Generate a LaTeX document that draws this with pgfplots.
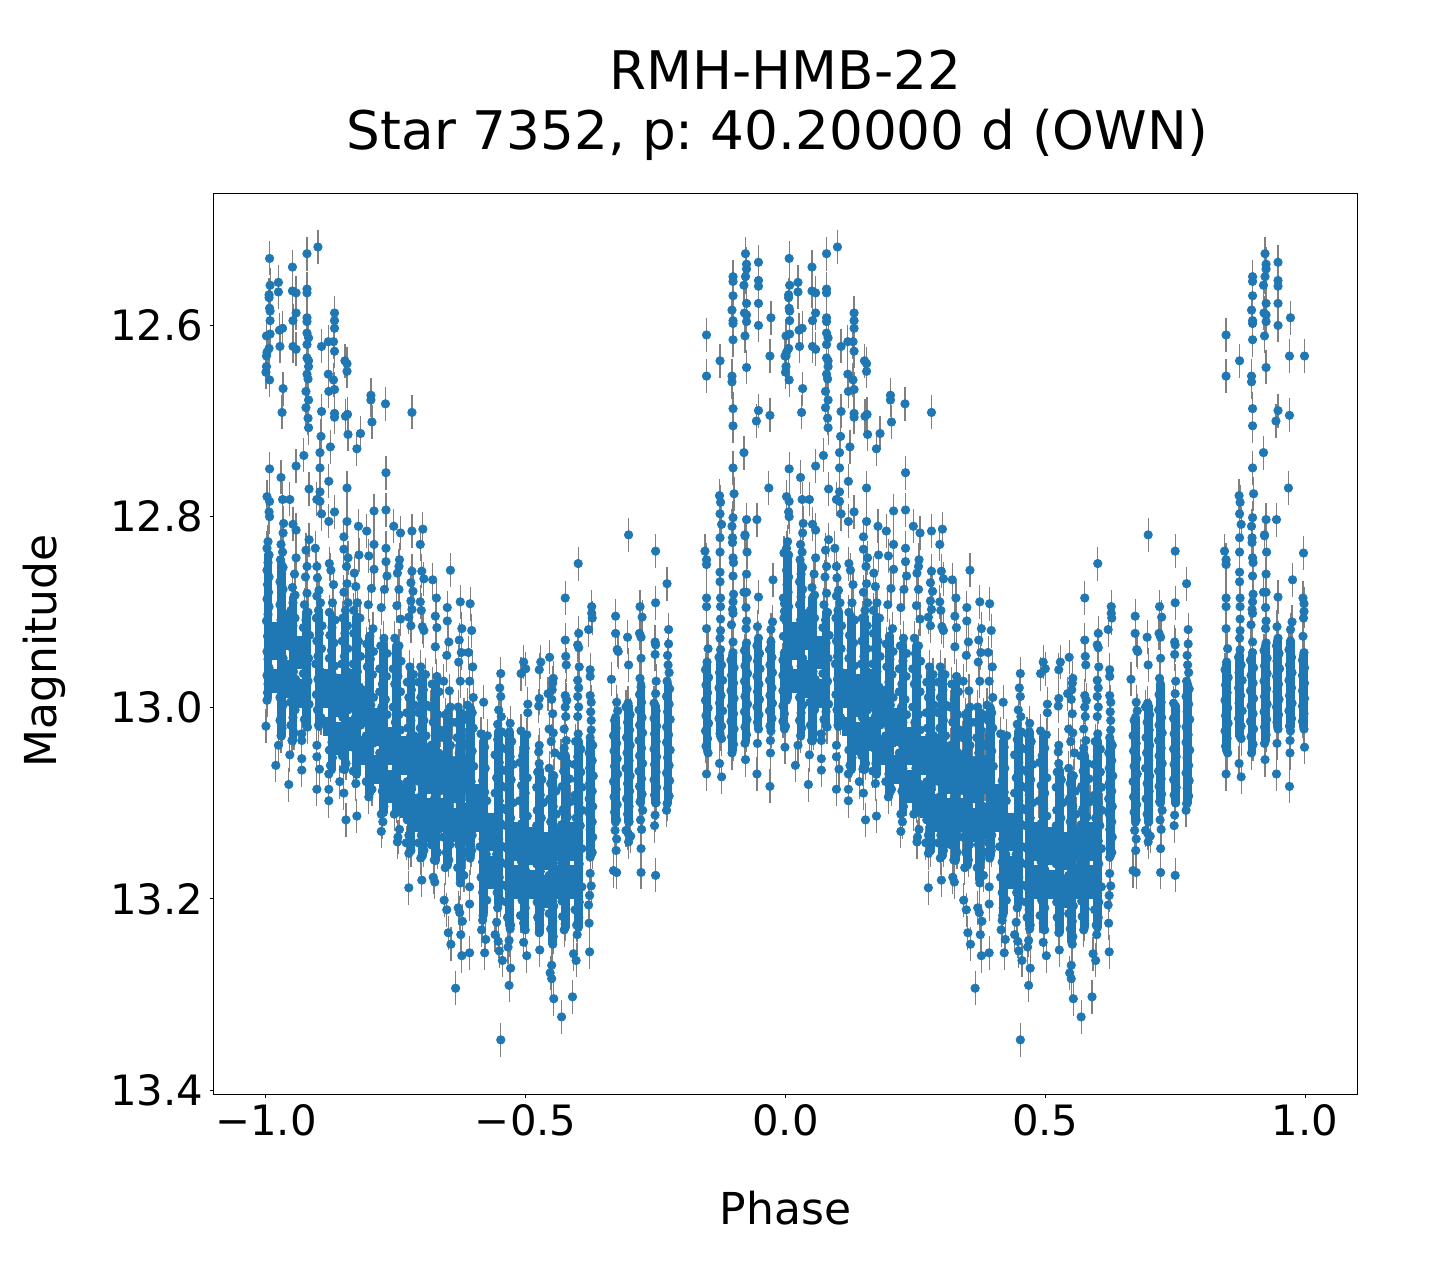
\documentclass[border=0pt]{standalone}
\usepackage{fontspec}
\setmainfont{DejaVu Sans}
\usepackage{pgfplots}
\usepackage{pgfplotstable}
\pgfplotsset{compat=1.18}
\definecolor{mplblue}{HTML}{1F77B4}
% phase and magnitude, phases 0..1 (drawn again at phase-1)
\pgfplotstableread{
ph mag
.007 12.533
.008 12.561
.006 12.571
.006 12.574
.007 12.585
.008 12.588
.008 12.598
.001 12.614
.008 12.612
.006 12.627
.002 12.631
.001 12.635
.001 12.646
.000 12.652
.007 12.660
.007 12.753
.002 12.782
.007 12.787
.006 12.798
.007 12.803
.004 12.829
.002 12.836
.006 12.843
.004 12.851
.002 12.859
.006 12.866
.003 12.874
.005 12.882
.002 12.889
.006 12.897
.004 12.905
.001 12.912
.005 12.920
.003 12.928
.006 12.936
.002 12.944
.004 12.952
.006 12.961
.002 12.969
.004 12.978
.003 12.987
.002 12.995
.000 13.022
.024 12.558
.024 12.568
.026 12.608
.032 12.606
.027 12.625
.033 12.669
.031 12.694
.029 12.762
.032 12.785
.034 12.810
.033 12.820
.029 12.832
.032 12.840
.028 12.848
.033 12.856
.030 12.863
.027 12.871
.033 12.879
.030 12.887
.027 12.895
.032 12.903
.029 12.911
.034 12.919
.027 12.927
.031 12.935
.028 12.943
.033 12.951
.030 12.959
.026 12.967
.032 12.975
.029 12.984
.027 12.992
.033 13.000
.030 13.008
.027 13.016
.031 13.024
.029 13.032
.024 13.042
.019 13.063
.051 12.542
.051 12.567
.058 12.569
.058 12.590
.052 12.598
.052 12.625
.058 12.628
.058 12.750
.046 12.785
.052 12.811
.058 12.817
.058 12.846
.055 12.863
.051 12.877
.056 12.885
.052 12.893
.048 12.901
.056 12.909
.052 12.917
.047 12.925
.055 12.933
.051 12.941
.058 12.949
.048 12.957
.053 12.965
.057 12.973
.050 12.981
.054 12.989
.047 12.997
.056 13.005
.052 13.013
.048 13.021
.054 13.029
.050 13.037
.046 13.052
.044 13.083
.079 12.528
.079 12.565
.079 12.569
.079 12.595
.079 12.599
.079 12.611
.082 12.616
.079 12.623
.079 12.637
.082 12.640
.082 12.646
.079 12.654
.081 12.659
.077 12.672
.082 12.681
.077 12.689
.081 12.700
.082 12.710
.073 12.739
.083 12.774
.083 12.827
.077 12.838
.079 12.855
.076 12.866
.079 12.883
.074 12.895
.081 12.903
.077 12.911
.072 12.919
.084 12.927
.078 12.935
.073 12.943
.082 12.951
.076 12.959
.072 12.967
.081 12.975
.077 12.983
.073 12.991
.083 12.999
.078 13.007
.074 13.015
.080 13.023
.069 13.030
.069 13.037
.069 13.056
.069 13.068
.100 12.521
.107 12.625
.120 12.654
.107 12.693
.106 12.719
.104 12.736
.104 12.752
.104 12.777
.098 12.785
.104 12.787
.107 12.800
.095 12.836
.098 12.855
.099 12.867
.102 12.880
.098 12.886
.105 12.893
.101 12.901
.097 12.909
.108 12.917
.103 12.925
.098 12.933
.107 12.941
.100 12.949
.096 12.957
.105 12.965
.100 12.973
.108 12.981
.097 12.989
.103 12.997
.099 13.005
.106 13.013
.101 13.021
.098 13.042
.098 13.054
.103 13.067
.098 13.088
.132 12.590
.132 12.598
.132 12.606
.130 12.620
.132 12.630
.120 12.620
.130 12.660
.132 12.670
.121 12.672
.132 12.695
.132 12.699
.124 12.730
.121 12.766
.132 12.798
.121 12.808
.122 12.852
.125 12.859
.130 12.874
.128 12.893
.122 12.903
.133 12.911
.127 12.919
.123 12.927
.131 12.935
.126 12.943
.122 12.951
.132 12.959
.127 12.967
.124 12.975
.133 12.983
.128 12.991
.122 12.999
.131 13.007
.126 13.015
.123 13.023
.130 13.031
.127 13.039
.122 13.047
.128 13.055
.124 13.063
.121 13.072
.121 13.088
.121 13.100
.152 12.640
.156 12.643
.156 12.651
.157 12.696
.153 12.698
.158 12.717
.156 12.773
.156 12.808
.150 12.824
.150 12.837
.158 12.846
.155 12.855
.156 12.873
.150 12.882
.158 12.893
.153 12.901
.148 12.909
.157 12.917
.152 12.925
.147 12.933
.157 12.941
.151 12.949
.146 12.957
.156 12.965
.150 12.973
.159 12.981
.146 12.989
.153 12.997
.158 13.005
.148 13.013
.154 13.021
.149 13.029
.156 13.037
.151 13.045
.147 13.053
.154 13.061
.149 13.067
.142 13.080
.150 13.092
.154 13.120
.182 12.716
.175 12.732
.178 12.813
.179 12.843
.170 12.862
.173 12.876
.176 12.893
.169 12.901
.181 12.909
.174 12.917
.169 12.925
.178 12.933
.172 12.941
.182 12.949
.168 12.957
.176 12.965
.170 12.973
.180 12.981
.173 12.989
.168 12.997
.178 13.005
.172 13.013
.182 13.021
.169 13.029
.176 13.037
.171 13.045
.180 13.053
.174 13.061
.168 13.069
.173 13.082
.175 13.116
.202 12.676
.202 12.681
.204 12.704
.208 12.797
.194 12.818
.208 12.832
.198 12.844
.208 12.858
.203 12.878
.197 12.895
.206 12.920
.200 12.928
.194 12.936
.207 12.944
.201 12.952
.195 12.960
.205 12.968
.199 12.976
.193 12.984
.207 12.992
.202 13.000
.196 13.008
.205 13.016
.199 13.024
.193 13.032
.206 13.040
.200 13.048
.195 13.056
.205 13.064
.199 13.072
.193 13.080
.204 13.088
.198 13.096
.230 12.685
.231 12.757
.231 12.796
.231 12.836
.231 12.850
.233 12.865
.228 12.879
.222 12.898
.227 12.930
.221 12.938
.233 12.946
.226 12.954
.219 12.962
.232 12.970
.224 12.978
.219 12.986
.230 12.994
.223 13.002
.233 13.010
.226 13.018
.220 13.026
.231 13.034
.225 13.042
.219 13.050
.232 13.058
.226 13.066
.220 13.074
.230 13.082
.224 13.090
.232 13.098
.227 13.106
.222 13.114
.225 13.122
.222 13.132
.246 12.813
.259 12.820
.257 12.848
.256 12.855
.253 12.862
.256 12.879
.252 12.896
.259 12.910
.248 12.930
.256 12.938
.250 12.946
.260 12.954
.245 12.962
.254 12.970
.248 12.978
.259 12.986
.252 12.994
.245 13.002
.256 13.010
.249 13.018
.259 13.026
.243 13.034
.253 13.042
.247 13.050
.258 13.058
.251 13.066
.245 13.074
.256 13.082
.249 13.090
.260 13.098
.252 13.106
.247 13.114
.257 13.130
.254 13.138
.253 13.143
.281 12.694
.281 12.818
.281 12.860
.279 12.872
.283 12.881
.279 12.891
.281 12.900
.275 12.908
.279 12.917
.277 12.960
.284 12.968
.272 12.976
.280 12.984
.275 12.992
.286 13.000
.271 13.008
.279 13.016
.273 13.024
.285 13.032
.277 13.040
.270 13.048
.283 13.056
.275 13.064
.288 13.072
.272 13.080
.280 13.088
.274 13.096
.286 13.104
.277 13.112
.272 13.120
.283 13.128
.275 13.136
.270 13.144
.279 13.152
.275 13.155
.275 13.191
.302 12.816
.297 12.832
.300 12.860
.304 12.868
.297 12.892
.299 12.901
.301 12.918
.304 12.922
.298 12.960
.307 12.968
.294 12.976
.303 12.984
.298 12.992
.309 13.000
.294 13.008
.304 13.016
.297 13.024
.308 13.032
.301 13.040
.293 13.048
.306 13.056
.299 13.064
.311 13.072
.295 13.080
.303 13.088
.297 13.096
.309 13.104
.301 13.112
.294 13.120
.307 13.128
.299 13.136
.294 13.144
.304 13.152
.298 13.160
.300 13.183
.321 12.869
.328 12.888
.326 12.907
.329 12.919
.326 12.939
.329 12.970
.320 12.978
.333 12.986
.325 12.994
.317 13.002
.331 13.010
.322 13.018
.335 13.026
.327 13.034
.318 13.042
.332 13.050
.323 13.058
.336 13.066
.328 13.074
.318 13.082
.333 13.090
.324 13.098
.336 13.106
.328 13.114
.319 13.122
.332 13.130
.324 13.138
.318 13.146
.330 13.154
.324 13.162
.322 13.180
.325 13.185
.355 12.859
.349 12.898
.349 12.912
.352 12.934
.348 12.948
.342 12.975
.353 12.985
.355 13.002
.346 13.010
.358 13.018
.350 13.026
.341 13.034
.355 13.042
.347 13.050
.359 13.058
.351 13.066
.342 13.074
.356 13.082
.346 13.090
.360 13.098
.352 13.106
.343 13.114
.356 13.122
.348 13.130
.341 13.138
.354 13.146
.347 13.154
.352 13.162
.345 13.170
.343 13.204
.348 13.214
.351 13.238
.356 13.250
.374 12.892
.377 12.920
.372 12.932
.376 12.945
.371 12.955
.374 12.975
.370 13.002
.381 13.010
.366 13.018
.376 13.026
.368 13.034
.384 13.042
.372 13.050
.365 13.058
.380 13.066
.370 13.074
.384 13.082
.374 13.090
.366 13.098
.381 13.106
.372 13.114
.384 13.122
.367 13.130
.378 13.138
.371 13.146
.383 13.154
.376 13.162
.369 13.170
.381 13.178
.374 13.186
.370 13.212
.373 13.217
.378 13.226
.375 13.240
.377 13.262
.365 13.296
.393 12.894
.396 12.922
.390 12.945
.398 12.960
.392 12.975
.399 12.992
.388 13.000
.397 13.008
.390 13.016
.399 13.024
.392 13.032
.388 13.040
.397 13.048
.391 13.056
.400 13.064
.389 13.072
.395 13.080
.390 13.088
.399 13.096
.393 13.104
.388 13.112
.398 13.120
.392 13.128
.397 13.136
.391 13.144
.396 13.152
.393 13.160
.392 13.190
.392 13.208
.392 13.259
.419 12.997
.421 13.044
.419 13.054
.422 13.066
.417 13.079
.421 13.091
.426 13.032
.414 13.030
.425 13.100
.414 13.108
.422 13.116
.416 13.124
.426 13.132
.418 13.140
.412 13.148
.424 13.156
.417 13.164
.425 13.172
.414 13.180
.422 13.188
.417 13.196
.425 13.204
.419 13.212
.418 13.220
.417 13.225
.415 13.235
.423 13.245
.421 13.259
.452 12.967
.450 12.982
.452 12.991
.448 13.005
.453 13.012
.446 13.020
.454 13.028
.446 13.036
.452 13.044
.441 13.052
.449 13.060
.456 13.068
.444 13.076
.452 13.084
.441 13.092
.449 13.100
.456 13.108
.445 13.116
.452 13.124
.441 13.132
.448 13.140
.456 13.148
.444 13.156
.452 13.164
.441 13.172
.449 13.180
.455 13.188
.445 13.196
.451 13.204
.446 13.212
.444 13.227
.441 13.240
.447 13.247
.449 13.257
.455 13.267
.452 13.350
.470 13.019
.465 13.030
.473 13.038
.463 13.046
.470 13.054
.476 13.062
.466 13.070
.472 13.078
.462 13.086
.469 13.094
.476 13.102
.464 13.110
.471 13.118
.462 13.126
.470 13.134
.475 13.142
.465 13.150
.472 13.158
.463 13.166
.470 13.174
.476 13.182
.465 13.190
.471 13.198
.463 13.206
.469 13.214
.465 13.222
.471 13.230
.470 13.234
.468 13.246
.466 13.253
.471 13.275
.468 13.293
.496 12.955
.500 12.962
.491 12.967
.504 12.999
.504 13.008
.491 13.027
.502 13.031
.494 13.053
.499 13.045
.489 13.060
.497 13.068
.503 13.076
.492 13.084
.499 13.092
.488 13.100
.497 13.108
.503 13.116
.492 13.124
.498 13.132
.489 13.140
.496 13.148
.503 13.156
.492 13.164
.499 13.172
.489 13.180
.496 13.188
.503 13.196
.493 13.204
.499 13.212
.490 13.220
.496 13.228
.499 13.235
.496 13.248
.502 13.262
.529 12.955
.526 12.963
.526 12.993
.525 13.001
.526 13.042
.525 13.049
.526 13.061
.523 13.070
.531 13.078
.521 13.086
.528 13.094
.534 13.102
.522 13.110
.530 13.118
.521 13.126
.527 13.134
.534 13.142
.523 13.150
.530 13.158
.521 13.166
.528 13.174
.533 13.182
.523 13.190
.529 13.198
.522 13.206
.528 13.214
.523 13.222
.527 13.230
.526 13.238
.527 13.256
.546 12.950
.553 12.972
.552 12.977
.551 12.984
.543 12.988
.550 12.994
.552 13.009
.545 13.025
.553 13.029
.549 13.038
.556 13.050
.545 13.066
.554 13.074
.548 13.082
.558 13.090
.546 13.098
.553 13.106
.559 13.114
.548 13.122
.555 13.130
.545 13.138
.552 13.146
.559 13.154
.547 13.162
.554 13.170
.545 13.178
.552 13.186
.558 13.194
.548 13.202
.554 13.210
.545 13.218
.552 13.226
.548 13.234
.553 13.242
.552 13.250
.550 13.272
.547 13.280
.550 13.286
.554 13.307
.576 12.888
.576 12.932
.577 12.949
.578 12.958
.576 12.990
.579 12.995
.576 13.002
.577 13.012
.574 13.025
.578 13.037
.574 13.045
.568 13.053
.581 13.061
.573 13.069
.584 13.077
.570 13.085
.578 13.093
.586 13.101
.572 13.109
.580 13.117
.569 13.125
.577 13.133
.585 13.141
.572 13.149
.579 13.157
.569 13.165
.577 13.173
.584 13.181
.572 13.189
.578 13.197
.570 13.205
.577 13.213
.571 13.221
.576 13.229
.574 13.235
.569 13.326
.601 12.852
.602 12.925
.600 12.937
.602 12.940
.603 12.960
.600 12.974
.602 12.982
.600 12.991
.602 13.002
.600 13.012
.601 13.030
.596 13.038
.606 13.046
.600 13.054
.594 13.062
.606 13.070
.599 13.078
.608 13.086
.595 13.094
.602 13.102
.609 13.110
.597 13.118
.605 13.126
.594 13.134
.602 13.142
.608 13.150
.597 13.158
.603 13.166
.594 13.174
.601 13.182
.608 13.190
.596 13.198
.603 13.206
.595 13.214
.602 13.222
.598 13.230
.599 13.240
.592 13.260
.597 13.267
.590 13.305
.627 12.897
.627 12.904
.628 12.909
.621 12.921
.624 12.963
.624 12.970
.624 12.990
.626 12.997
.625 13.007
.626 13.016
.626 13.026
.624 13.034
.629 13.042
.622 13.050
.628 13.058
.623 13.066
.630 13.074
.623 13.082
.628 13.090
.622 13.098
.629 13.106
.623 13.114
.628 13.122
.624 13.130
.629 13.138
.625 13.146
.628 13.154
.624 13.159
.624 13.176
.626 13.189
.623 13.199
.621 13.209
.622 13.228
.623 13.258
.673 12.907
.673 12.925
.676 12.942
.678 12.944
.665 12.973
.675 12.997
.677 13.006
.671 13.016
.674 13.024
.669 13.032
.675 13.040
.670 13.048
.676 13.056
.671 13.064
.677 13.072
.669 13.080
.674 13.088
.670 13.096
.676 13.104
.671 13.112
.675 13.120
.672 13.131
.675 13.140
.674 13.152
.669 13.173
.675 13.175
.698 12.822
.696 12.929
.698 12.958
.697 12.998
.693 13.002
.701 13.010
.696 13.018
.700 13.026
.694 13.034
.701 13.042
.695 13.050
.699 13.058
.693 13.066
.701 13.074
.696 13.082
.700 13.090
.694 13.098
.699 13.106
.696 13.114
.699 13.122
.693 13.131
.697 13.134
.702 13.137
.698 13.143
.720 12.897
.724 12.908
.719 12.925
.722 12.929
.722 12.951
.720 12.972
.722 12.981
.719 12.989
.723 12.997
.718 13.005
.724 13.013
.719 13.021
.725 13.029
.718 13.037
.723 13.045
.719 13.053
.725 13.061
.718 13.069
.723 13.077
.719 13.085
.724 13.093
.720 13.101
.725 13.110
.721 13.120
.723 13.130
.722 13.150
.722 13.175
.750 12.839
.750 12.893
.749 12.934
.750 12.937
.749 12.947
.751 12.975
.750 12.988
.747 12.998
.751 13.006
.747 13.014
.752 13.022
.748 13.030
.751 13.038
.747 13.046
.752 13.054
.748 13.062
.751 13.070
.747 13.078
.752 13.086
.748 13.094
.751 13.102
.749 13.115
.748 13.126
.750 13.178
.772 12.873
.775 12.921
.775 12.936
.773 12.948
.774 12.958
.776 12.966
.772 12.975
.777 12.983
.771 12.991
.776 12.999
.773 13.007
.778 13.015
.771 13.023
.775 13.031
.771 13.039
.778 13.047
.773 13.055
.776 13.063
.771 13.071
.777 13.079
.773 13.087
.776 13.095
.772 13.103
.771 13.110
.848 12.613
.848 12.656
.845 12.839
.848 12.848
.848 12.853
.848 12.888
.848 12.897
.848 12.920
.851 12.941
.849 12.955
.846 12.963
.852 12.971
.847 12.979
.850 12.987
.846 12.995
.851 13.003
.847 13.011
.852 13.019
.846 13.027
.850 13.035
.847 13.043
.851 13.050
.848 13.072
.874 12.640
.873 12.781
.875 12.788
.874 12.800
.877 12.811
.874 12.825
.874 12.840
.874 12.861
.874 12.871
.875 12.888
.875 12.897
.875 12.910
.875 12.922
.874 12.930
.875 12.942
.872 12.950
.877 12.958
.873 12.966
.879 12.974
.872 12.982
.876 12.990
.873 12.998
.879 13.006
.872 13.014
.877 13.022
.874 13.030
.877 13.035
.873 13.061
.877 13.075
.899 12.552
.899 12.557
.899 12.572
.897 12.587
.899 12.598
.899 12.601
.899 12.618
.897 12.656
.897 12.662
.899 12.690
.899 12.708
.899 12.752
.901 12.779
.899 12.804
.897 12.813
.898 12.825
.898 12.830
.899 12.846
.900 12.851
.899 12.865
.900 12.884
.899 12.892
.898 12.900
.899 12.904
.896 12.916
.899 12.934
.899 12.945
.895 12.953
.901 12.961
.896 12.969
.900 12.977
.895 12.985
.901 12.993
.896 13.001
.900 13.009
.895 13.017
.901 13.025
.896 13.033
.900 13.041
.897 13.050
.923 12.528
.925 12.539
.925 12.544
.923 12.552
.920 12.561
.925 12.580
.921 12.590
.925 12.592
.925 12.599
.922 12.614
.925 12.647
.920 12.736
.922 12.823
.925 12.806
.922 12.822
.926 12.840
.925 12.863
.920 12.882
.925 12.882
.924 12.898
.925 12.912
.924 12.920
.925 12.935
.921 12.943
.927 12.951
.922 12.959
.927 12.967
.921 12.975
.926 12.983
.922 12.991
.927 12.999
.921 13.007
.926 13.015
.922 13.023
.925 13.031
.922 13.040
.923 13.057
.948 12.537
.948 12.556
.948 12.562
.948 12.580
.948 12.603
.944 12.703
.948 12.692
.945 12.806
.948 12.887
.946 12.918
.948 12.930
.945 12.938
.950 12.946
.946 12.954
.951 12.962
.945 12.970
.949 12.978
.946 12.986
.950 12.994
.945 13.002
.949 13.010
.946 13.018
.948 13.025
.946 13.040
.945 13.072
.972 12.595
.970 12.635
.970 12.697
.968 12.773
.976 12.869
.975 12.913
.972 12.921
.972 12.934
.969 12.942
.974 12.950
.970 12.958
.975 12.966
.969 12.974
.974 12.982
.970 12.990
.975 12.998
.969 13.006
.974 13.014
.970 13.022
.972 13.027
.971 13.037
.971 13.050
.970 13.085
.999 12.635
.997 12.841
.996 12.888
.998 12.894
.998 12.902
.997 12.909
.996 12.928
.998 12.945
.995 12.953
.999 12.961
.995 12.969
.999 12.977
.995 12.985
.999 12.993
.995 13.001
.998 13.009
.995 13.017
.998 13.025
.999 13.044
}\datatable
% where the points merge into solid columns: phase, top and bottom of each run
\pgfplotstableread{
ph mag
.004 12.84
.004 12.99
.004 nan
.030 12.85
.030 13.03
.030 nan
.052 12.885
.052 13.035
.052 nan
.078 12.90
.078 13.02
.078 nan
.102 12.90
.102 13.02
.102 nan
.127 12.905
.127 13.065
.127 nan
.152 12.905
.152 13.065
.152 nan
.175 12.905
.175 13.07
.175 nan
.200 12.925
.200 13.09
.200 nan
.226 12.935
.226 13.11
.226 nan
.252 12.935
.252 13.11
.252 nan
.279 12.965
.279 13.15
.279 nan
.302 12.965
.302 13.155
.302 nan
.327 12.975
.327 13.16
.327 nan
.350 13.005
.350 13.165
.350 nan
.374 13.005
.374 13.18
.374 nan
.394 13.00
.394 13.155
.394 nan
.419 13.035
.419 13.215
.419 nan
.448 13.025
.448 13.205
.448 nan
.469 13.025
.469 13.228
.469 nan
.497 13.03
.497 13.232
.497 nan
.527 13.065
.527 13.235
.527 nan
.551 13.07
.551 13.245
.551 nan
.576 13.05
.576 13.23
.576 nan
.601 13.035
.601 13.23
.601 nan
.625 13.035
.625 13.155
.625 nan
.673 13.01
.673 13.12
.673 nan
.698 12.998
.698 13.12
.698 nan
.722 12.975
.722 13.10
.722 nan
.750 12.998
.750 13.10
.750 nan
.774 12.975
.774 13.10
.774 nan
.849 12.955
.849 13.045
.849 nan
.874 12.945
.874 13.03
.874 nan
.898 12.945
.898 13.045
.898 nan
.924 12.935
.924 13.035
.924 nan
.947 12.93
.947 13.02
.947 nan
.972 12.93
.972 13.02
.972 nan
.997 12.945
.997 13.02
.997 nan
}\runs
% narrower patches between the columns where the reference is almost filled in
\pgfplotstableread{
ph mag
.016 12.91
.016 12.95
.016 nan
.016 12.96
.016 12.985
.016 nan
.041 12.90
.041 12.94
.041 nan
.041 12.95
.041 12.99
.041 nan
.066 12.925
.066 12.96
.066 nan
.066 12.97
.066 13.00
.066 nan
.115 12.96
.115 13.00
.115 nan
.115 13.01
.115 13.03
.115 nan
.140 12.965
.140 13.01
.140 nan
.140 13.015
.140 13.05
.140 nan
.164 12.96
.164 13.00
.164 nan
.164 13.01
.164 13.045
.164 nan
.188 12.98
.188 13.02
.188 nan
.188 13.03
.188 13.06
.188 nan
.213 13.00
.213 13.04
.213 nan
.213 13.05
.213 13.08
.213 nan
.240 13.02
.240 13.06
.240 nan
.240 13.065
.240 13.10
.240 nan
.265 13.03
.265 13.07
.265 nan
.265 13.08
.265 13.115
.265 nan
.290 13.03
.290 13.08
.290 nan
.290 13.09
.290 13.13
.290 nan
.315 13.04
.315 13.09
.315 nan
.315 13.095
.315 13.14
.315 nan
.338 13.05
.338 13.09
.338 nan
.338 13.095
.338 13.13
.338 nan
.362 13.055
.362 13.10
.362 nan
.362 13.105
.362 13.14
.362 nan
.384 13.05
.384 13.09
.384 nan
.384 13.10
.384 13.135
.384 nan
.407 13.08
.407 13.13
.407 nan
.434 13.11
.434 13.15
.434 nan
.434 13.155
.434 13.19
.434 nan
.483 13.12
.483 13.16
.483 nan
.483 13.165
.483 13.20
.483 nan
.512 13.125
.512 13.165
.512 nan
.512 13.17
.512 13.20
.512 nan
.540 13.13
.540 13.17
.540 nan
.540 13.175
.540 13.21
.540 nan
.565 13.125
.565 13.16
.565 nan
.565 13.165
.565 13.20
.565 nan
.589 13.12
.589 13.16
.589 nan
.589 13.165
.589 13.20
.589 nan
}\patches
\begin{document}
\frenchspacing
\begin{tikzpicture}
\begin{axis}[
  set layers=standard,
  scale only axis,
  width=571.5pt,height=450pt,
  xmin=-1.1,xmax=1.1,
  ymin=12.463,ymax=13.404,
  y dir=reverse,
  unbounded coords=jump,
  axis line style={line width=0.5pt},
  tick style={line width=0.5pt,black},
  major tick length=2.2pt,
  tick align=outside,
  xtick pos=bottom,ytick pos=left,
  xtick={-1,-0.5,0,0.5,1},
  xticklabels={−1.0,−0.5,0.0,0.5,1.0},
  ytick={12.6,12.8,13,13.2,13.4},
  yticklabels={12.6,12.8,13.0,13.2,13.4},
  tick label style={font=\fontsize{20.9}{25}\selectfont},
  xticklabel style={inner sep=0pt,yshift=-3pt},
  yticklabel style={inner sep=0pt,xshift=-3pt},
  clip=false,
  title={RMH-HMB-22\\Star 7352, p: 40.20000 d (OWN)\hspace*{8pt}},
  title style={at={(0.5,1)},anchor=south,yshift=10.5pt,inner sep=0pt,align=center,font=\fontsize{26.6}{30}\selectfont},
  xlabel={Phase},
  xlabel style={at={(axis description cs:0.5,0)},anchor=base,yshift=-65pt,font=\fontsize{22}{26}\selectfont},
  ylabel={Magnitude},
  ylabel style={at={(axis description cs:0,0.4925)},anchor=base,yshift=78.5pt,font=\fontsize{22}{26}\selectfont},
]
% error bars as | marks of fixed half length (real error bars run out of TeX memory)
\addplot[on layer=pre main,mark layer=pre main,only marks,mark=|,mark size=8.5pt,mark options={draw=gray,line width=0.6pt}] table[x=ph,y expr=\thisrow{mag}-0.0026] {\datatable};
\addplot[on layer=pre main,mark layer=pre main,only marks,mark=|,mark size=8.5pt,mark options={draw=gray,line width=0.6pt}] table[x expr=\thisrow{ph}-1,y expr=\thisrow{mag}-0.0026] {\datatable};
\addplot[mplblue,line width=3.2pt] table[x=ph,y=mag] {\patches};
\addplot[mplblue,line width=3.2pt] table[x expr=\thisrow{ph}-1,y=mag] {\patches};
\addplot[mplblue,line width=4.4pt,line cap=round] table[x=ph,y=mag] {\runs};
\addplot[mplblue,line width=4.4pt,line cap=round] table[x expr=\thisrow{ph}-1,y=mag] {\runs};
\addplot[only marks,mark=*,mark size=2.1pt,mark options={draw=mplblue,fill=mplblue}] table[x=ph,y expr=\thisrow{mag}-0.0026] {\datatable};
\addplot[only marks,mark=*,mark size=2.1pt,mark options={draw=mplblue,fill=mplblue}] table[x expr=\thisrow{ph}-1,y expr=\thisrow{mag}-0.0026] {\datatable};
\end{axis}
\useasboundingbox (-107pt,-93pt) rectangle (613pt,547pt);
\end{tikzpicture}
\end{document}
